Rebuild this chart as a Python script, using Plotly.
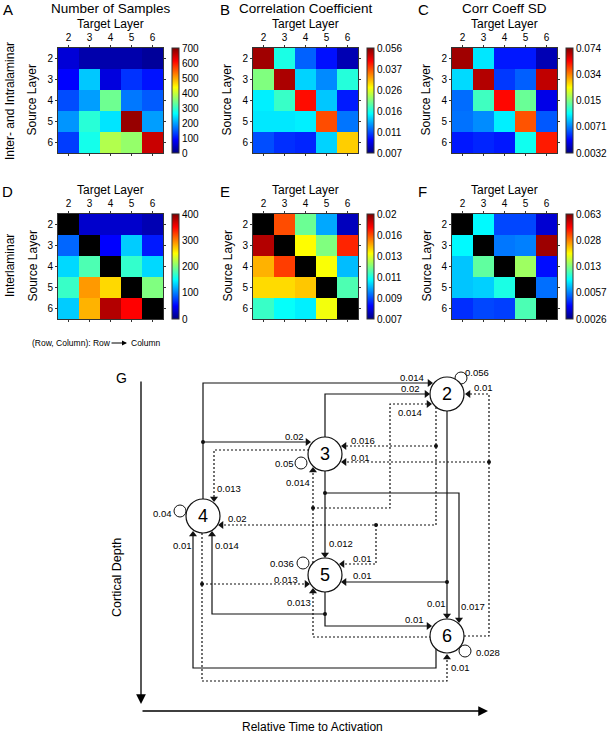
import numpy as np
import plotly.graph_objects as go

W, H = 611, 734
FONT = "Liberation Sans, Arial, sans-serif"

# ------------------------------------------------------------------ data
layers = [2, 3, 4, 5, 6]

# rows = source layer 2..6, columns = target layer 2..6
samples_all = [
    [60, 30, 30, 30, 18],
    [88, 225, 65, 122, 100],
    [140, 196, 338, 170, 149],
    [190, 290, 245, 684, 196],
    [129, 276, 385, 365, 650],
]
corr_all = [
    [0.053, 0.016, 0.0115, 0.0098, 0.008],
    [0.021, 0.052, 0.0143, 0.0125, 0.0165],
    [0.015, 0.0175, 0.043, 0.014, 0.010],
    [0.0148, 0.0148, 0.015, 0.037, 0.012],
    [0.011, 0.0104, 0.0102, 0.0143, 0.030],
]
sd_all = [
    [0.069, 0.0103, 0.0055, 0.0055, 0.0040],
    [0.0099, 0.066, 0.0060, 0.0066, 0.064],
    [0.0068, 0.013, 0.053, 0.0143, 0.0048],
    [0.0069, 0.0075, 0.0106, 0.041, 0.0065],
    [0.0055, 0.0057, 0.0055, 0.0115, 0.050],
]
samples_inter = [
    [None, 30, 30, 30, 20],
    [90, None, 50, 130, 60],
    [135, 180, None, 170, 135],
    [172, 290, 265, None, 200],
    [130, 280, 380, 350, None],
]
corr_inter = [
    [None, 0.016, 0.0118, 0.0099, 0.0076],
    [0.019, None, 0.0134, 0.012, 0.0168],
    [0.0145, 0.0163, None, 0.0133, 0.0101],
    [0.0139, 0.0139, 0.0142, None, 0.0115],
    [0.0113, 0.0108, 0.0106, 0.0132, None],
]
sd_inter = [
    [None, 0.0092, 0.0050, 0.0050, 0.0036],
    [0.0092, None, 0.0056, 0.0057, 0.059],
    [0.0077, 0.0121, None, 0.0148, 0.0043],
    [0.0077, 0.008, 0.0101, None, 0.0055],
    [0.0047, 0.005, 0.0049, 0.0115, None],
]

ticks_samples_all = [0, 100, 200, 300, 400, 500, 600, 700]
ticks_corr_all = [0.007, 0.011, 0.016, 0.026, 0.037, 0.056]
ticks_sd_all = [0.0032, 0.0071, 0.015, 0.034, 0.074]
ticks_samples_inter = [0, 100, 200, 300, 400]
ticks_corr_inter = [0.007, 0.009, 0.011, 0.013, 0.016, 0.02]
ticks_sd_inter = [0.0026, 0.0057, 0.013, 0.028, 0.063]

labels_samples_all = ["0", "100", "200", "300", "400", "500", "600", "700"]
labels_corr_all = ["0.007", "0.011", "0.016", "0.026", "0.037", "0.056"]
labels_sd_all = ["0.0032", "0.0071", "0.015", "0.034", "0.074"]
labels_samples_inter = ["0", "100", "200", "300", "400"]
labels_corr_inter = ["0.007", "0.009", "0.011", "0.013", "0.016", "0.02"]
labels_sd_inter = ["0.0026", "0.0057", "0.013", "0.028", "0.063"]

# network (panel G)
node_ids = [2, 3, 4, 5, 6]
edge_src = [4, 4, 3, 3, 3, 2, 2, 5, 5, 6, 3, 2, 2, 2, 6, 6, 5, 5, 6, 4, 4]
edge_tgt = [2, 3, 2, 5, 6, 6, 5, 6, 4, 4, 4, 3, 4, 5, 2, 3, 3, 2, 5, 5, 6]
edge_weight = ["0.014", "0.02", "0.02", "0.012", "0.017", "0.01", "0.01", "0.01",
               "0.014", "0.01", "0.013", "0.016", "0.02", "0.01", "0.01", "0.01",
               "0.014", "0.014", "0.013", "0.013", "0.01"]
edge_kind = ["solid"] * 10 + ["dotted"] * 11
self_weight = ["0.056", "0.05", "0.04", "0.036", "0.028"]

# ------------------------------------------------------------------ layout geometry (pixels)
def fx(px):
    return px / W

def fy(py):
    return 1 - py / H

JET = [[0, "rgb(0,0,128)"], [0.125, "rgb(0,0,255)"], [0.375, "rgb(0,255,255)"],
       [0.625, "rgb(255,255,0)"], [0.875, "rgb(255,0,0)"], [1, "rgb(128,0,0)"]]

panels = [
    dict(z=samples_all, t=ticks_samples_all, l=labels_samples_all, px=58, py=48, title="Number of Samples", letter="A", lx=8, ly=10),
    dict(z=corr_all, t=ticks_corr_all, l=labels_corr_all, px=253, py=48, title="Correlation Coefficient", letter="B", lx=225, ly=10),
    dict(z=sd_all, t=ticks_sd_all, l=labels_sd_all, px=452, py=48, title="Corr Coeff SD", letter="C", lx=423, ly=10),
    dict(z=samples_inter, t=ticks_samples_inter, l=labels_samples_inter, px=58, py=214, title=None, letter="D", lx=7, ly=192),
    dict(z=corr_inter, t=ticks_corr_inter, l=labels_corr_inter, px=253, py=214, title=None, letter="E", lx=225, ly=192),
    dict(z=sd_inter, t=ticks_sd_inter, l=labels_sd_inter, px=452, py=214, title=None, letter="F", lx=422, ly=192),
]
SIZE = 105

fig = go.Figure()
layout = dict(width=W, height=H, margin=dict(l=0, r=0, t=0, b=0),
              paper_bgcolor="white", plot_bgcolor="rgba(0,0,0,0)",
              font=dict(family=FONT, color="black"), showlegend=False)
annotations = []
shapes = []

def ann(text, x, y, size, **kw):
    d = dict(text=text, x=fx(x), y=fy(y), xref="paper", yref="paper", showarrow=False,
             font=dict(size=size, family=FONT, color="black"), xanchor="center", yanchor="middle")
    d.update(kw)
    annotations.append(d)

for i, p in enumerate(panels, start=1):
    s = "" if i == 1 else str(i)
    xa, ya = "x" + s, "y" + s
    vals = np.array(p["z"], dtype=float)
    pos = np.linspace(0, 1, len(p["t"]))
    zc = np.interp(vals, p["t"], pos)
    zc = [[None if np.isnan(v) else float(v) for v in row] for row in np.where(np.isnan(vals), np.nan, zc)]
    diag = [[1 if r == c else None for c in range(5)] for r in range(5)]
    if i > 3:
        fig.add_trace(go.Heatmap(x=layers, y=layers, z=diag, xaxis=xa, yaxis=ya,
                                 colorscale=[[0, "black"], [1, "black"]], showscale=False,
                                 hoverinfo="skip"))
    fig.add_trace(go.Heatmap(
        x=layers, y=layers, z=zc, xaxis=xa, yaxis=ya, zmin=0, zmax=1, colorscale=JET,
        colorbar=dict(x=fx(p["px"] + 114), xanchor="left", xpad=0,
                      y=fy(p["py"] + SIZE / 2), yanchor="middle", ypad=0,
                      len=SIZE, lenmode="pixels", thickness=7, thicknessmode="pixels",
                      outlinewidth=1, outlinecolor="#333",
                      tickvals=list(pos), ticktext=p["l"], ticks="",
                      tickfont=dict(size=10, family=FONT, color="black")),
    ))
    axcommon = dict(tickvals=layers, ticks="outside", ticklen=2, tickwidth=1, tickcolor="#333",
                    showline=True, linecolor="#333", linewidth=1, mirror="ticks",
                    tickfont=dict(size=10, family=FONT, color="black"),
                    showgrid=False, zeroline=False, fixedrange=True)
    layout["xaxis" + s] = dict(domain=[fx(p["px"]), fx(p["px"] + SIZE)], range=[1.5, 6.5],
                               side="top", anchor=ya, **axcommon)
    layout["yaxis" + s] = dict(domain=[fy(p["py"] + SIZE), fy(p["py"])], range=[6.5, 1.5],
                               anchor=xa, **axcommon)
    cx = p["px"] + SIZE / 2
    top = p["py"]
    if p["title"]:
        ann(p["title"], cx, 8, 13.5)
    ann(p["letter"], p["lx"], p["ly"], 15)
    ann("Target Layer", cx, top - 23.5, 12)
    ann("Source Layer", p["px"] - 26, top + SIZE / 2, 12, textangle=-90)

ann("Inter- and Intralaminar", 10, 101, 12, textangle=-90)
ann("Interlaminar", 10, 266, 12, textangle=-90)
ann("(Row, Column): Row", 30, 343, 8.5, xanchor="left")
ann("Column", 129, 343, 8.5, xanchor="left")
annotations.append(dict(x=fx(127), y=fy(343), xref="paper", yref="paper", ax=-17, ay=0,
                        text="", showarrow=True, arrowhead=2, arrowsize=1, arrowwidth=1,
                        arrowcolor="black", standoff=0))

# ------------------------------------------------------------------ panel G
node_xy = {2: (447, 394), 3: (325, 454), 4: (203, 516), 5: (325, 575), 6: (447, 636)}
R = 17
routes = [
    [(203, 499), (203, 383), (433, 383)],
    [(203, 442), (311, 442)],
    [(325, 437), (325, 394), (430, 394)],
    [(325, 471), (325, 558)],
    [(325, 493), (459, 493), (459, 623)],
    [(447, 411), (447, 619)],
    [(447, 582), (341, 582)],
    [(325, 592), (325, 626), (432, 626)],
    [(325, 614), (212, 614), (212, 531)],
    [(436, 649), (436, 668), (193, 668), (193, 531)],
    [(309, 450), (214, 450), (214, 502)],
    [(436, 446), (341, 446)],
    [(436, 407), (436, 525), (218, 525)],
    [(376, 525), (376, 564), (339, 564)],
    [(464, 636), (489, 636), (489, 394), (465, 394)],
    [(489, 462), (341, 462)],
    [(313, 563), (313, 467)],
    [(313, 508), (390, 508), (390, 404), (432, 404)],
    [(431, 637), (313, 637), (313, 588)],
    [(202, 584), (310, 584)],
    [(202, 533), (202, 681), (447, 681), (447, 654)],
]
label_xy = [(412, 377), (294, 436), (410, 388), (341, 543), (473, 606), (436, 603),
            (362, 575), (414, 619), (227, 545), (182, 545), (229, 488), (363, 440),
            (237, 518), (362, 558), (483, 387), (360, 457), (298, 482), (410, 412),
            (299, 602), (286, 579), (460, 667)]
junctions = [(203, 442), (325, 493), (436, 446), (376, 525), (489, 462), (313, 508),
             (447, 582), (325, 614), (202, 584)]
loop_xy = {2: (461, 378), 3: (301, 463), 4: (180, 511), 5: (303, 563), 6: (465, 651)}
loop_label_xy = {2: (477, 372), 3: (284, 463), 4: (162, 513), 5: (282, 563), 6: (488, 652)}
LOOP_R = 6

DX, DY = "x7", "y7"
layout["xaxis7"] = dict(domain=[0, 1], range=[0, W], visible=False, fixedrange=True)
layout["yaxis7"] = dict(domain=[0, fy(360)], range=[H, 360], visible=False, fixedrange=True)

arrow_sym = {(1, 0): "triangle-right", (-1, 0): "triangle-left",
             (0, 1): "triangle-down", (0, -1): "triangle-up"}
ah_x, ah_y, ah_s = [], [], []
for k in range(len(edge_src)):
    pts = routes[k]
    (x1, y1), (x2, y2) = pts[-2], pts[-1]
    d = (int(np.sign(x2 - x1)), int(np.sign(y2 - y1)))
    tipx, tipy = x2 - d[0] * 3.5, y2 - d[1] * 3.5
    xs = [q[0] for q in pts[:-1]] + [tipx]
    ys = [q[1] for q in pts[:-1]] + [tipy]
    dash = "solid" if edge_kind[k] == "solid" else "2px,2px"
    fig.add_trace(go.Scatter(x=xs, y=ys, xaxis=DX, yaxis=DY, mode="lines",
                             line=dict(color="#111", width=1.2, dash=dash), hoverinfo="skip"))
    ah_x.append(tipx)
    ah_y.append(tipy)
    ah_s.append(arrow_sym[d])
    lx, ly = label_xy[k]
    annotations.append(dict(text=edge_weight[k], x=lx, y=ly, xref=DX, yref=DY, showarrow=False,
                            font=dict(size=9.5, family=FONT, color="black")))

fig.add_trace(go.Scatter(x=ah_x, y=ah_y, xaxis=DX, yaxis=DY, mode="markers",
                         marker=dict(symbol=ah_s, size=7, color="#111", line=dict(width=0)),
                         hoverinfo="skip"))
fig.add_trace(go.Scatter(x=[j[0] for j in junctions], y=[j[1] for j in junctions],
                         xaxis=DX, yaxis=DY, mode="markers",
                         marker=dict(size=4, color="#111"), hoverinfo="skip"))

for n, w in zip(node_ids, self_weight):
    cx, cy = loop_xy[n]
    shapes.append(dict(type="circle", xref=DX, yref=DY, x0=cx - LOOP_R, x1=cx + LOOP_R,
                       y0=cy - LOOP_R, y1=cy + LOOP_R, line=dict(color="#111", width=1)))
    lx, ly = loop_label_xy[n]
    annotations.append(dict(text=w, x=lx, y=ly, xref=DX, yref=DY, showarrow=False,
                            font=dict(size=9.5, family=FONT, color="black")))
for n in node_ids:
    cx, cy = node_xy[n]
    shapes.append(dict(type="circle", xref=DX, yref=DY, x0=cx - R, x1=cx + R, y0=cy - R, y1=cy + R,
                       fillcolor="white", line=dict(color="#111", width=1.2)))
    annotations.append(dict(text=str(n), x=cx, y=cy, xref=DX, yref=DY, showarrow=False,
                            font=dict(size=18, family=FONT, color="black")))

# axes of the diagram
annotations.append(dict(x=141, y=704, ax=141, ay=380, xref=DX, yref=DY, axref=DX, ayref=DY,
                        text="", showarrow=True, arrowhead=2, arrowsize=1.5, arrowwidth=1.3,
                        arrowcolor="black", standoff=0))
annotations.append(dict(x=488, y=711, ax=141, ay=711, xref=DX, yref=DY, axref=DX, ayref=DY,
                        text="", showarrow=True, arrowhead=2, arrowsize=1.5, arrowwidth=1.3,
                        arrowcolor="black", standoff=0))
ann("G", 121, 378, 14)
ann("Cortical Depth", 117, 578, 12.5, textangle=-90)
ann("Relative Time to Activation", 312, 727, 12)

layout["annotations"] = annotations
layout["shapes"] = shapes
fig.update_layout(**layout)
fig.write_html("out.html", config={"displayModeBar": False},
               post_script="document.body.style.margin='0';")
